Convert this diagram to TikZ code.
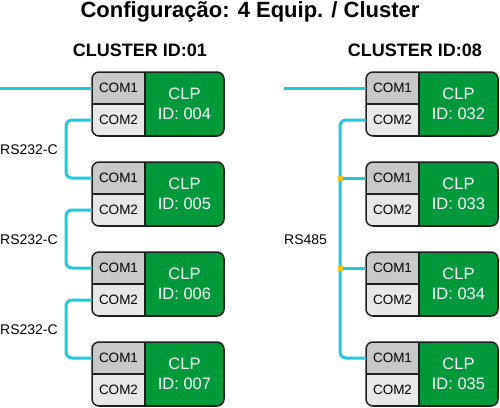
\documentclass[tikz,border=0pt]{standalone}
\usepackage{fontspec}
\setmainfont{Liberation Sans}
\usetikzlibrary{positioning}

\definecolor{clpgreen}{RGB}{0,153,57}
\definecolor{comgray}{RGB}{200,200,200}
\definecolor{comlight}{RGB}{232,232,232}
\definecolor{buscyan}{RGB}{30,200,225}
\definecolor{jointyellow}{RGB}{245,195,30}
\definecolor{edgedark}{RGB}{30,30,30}

% one CLP unit: name, left x, top y, id
\newcommand{\clpbox}[4]{%
  \begin{scope}
    \clip[rounded corners=7pt] (#2,#3) rectangle ++(132,64);
    \node[comcell, fill=comgray, anchor=north west] (c1#1) at (#2,#3) {COM1};
    \node[comcell, fill=comlight, anchor=north west] (c2#1) at (#2,#3+32) {COM2};
    \node[clpcell, anchor=north west] (#1) at (#2+53,#3) {CLP\\ID: #4};
  \end{scope}
  \draw[edgeline, rounded corners=7pt] (#2,#3) rectangle ++(132,64);
}

\begin{document}
\begin{tikzpicture}[
  x=1pt, y=-1pt,
  comcell/.style={draw=edgedark, line width=1.2pt, minimum width=53pt, minimum height=32pt, inner sep=0pt, outer sep=0pt, font=\fontsize{13.5}{16}\selectfont},
  clpcell/.style={draw=edgedark, line width=1.2pt, fill=clpgreen, text=white, align=center, minimum width=79pt, minimum height=64pt, inner sep=0pt, outer sep=0pt, font=\fontsize{16.5}{20}\selectfont},
  edgeline/.style={draw=edgedark, line width=1.5pt},
  bus/.style={draw=buscyan, line width=3pt, rounded corners=6pt},
  joint/.style={fill=jointyellow, minimum size=5pt, inner sep=0pt},
  heading/.style={font=\fontsize{18}{20}\selectfont\bfseries},
  linklabel/.style={font=\fontsize{14}{16}\selectfont, anchor=west, inner sep=0pt}
]
\useasboundingbox (0,0) rectangle (500,407);

\node[font=\fontsize{22}{24}\selectfont\bfseries] (title) at (250,12) {Configuração: 4 Equip. / Cluster};
\node[heading] (cl01) at (140,50) {CLUSTER ID:01};
\node[heading] (cl08) at (415,50) {CLUSTER ID:08};

% cluster 01
\foreach \n/\y in {004/72,005/162,006/252,007/342} {
  \clpbox{a\n}{92}{\y}{\n}
}
% cluster 08
\foreach \n/\y in {032/72,033/162,034/252,035/342} {
  \clpbox{b\n}{366}{\y}{\n}
}

% RS232-C chain
\coordinate (ina) at (0,88);
\draw[bus] (ina) -- (c1a004.west);
\foreach \a/\b in {004/005,005/006,006/007} {
  \draw[bus] (c2a\a.west) -- ++(-26,0) |- (c1a\b.west);
}
\node[linklabel] (rsa) at (0,150) {RS232-C};
\node[linklabel] (rsb) at (0,240) {RS232-C};
\node[linklabel] (rsc) at (0,330) {RS232-C};

% RS485 bus
\coordinate (inb) at (284,88);
\draw[bus] (inb) -- (c1b032.west);
\draw[bus] (c2b032.west) -- ++(-26,0) |- (c1b035.west);
\node[joint] (j033) at (340,178) {};
\node[joint] (j034) at (340,268) {};
\draw[bus] (j033) -- (c1b033.west);
\draw[bus] (j034) -- (c1b034.west);
\node[joint] at (j033) {};
\node[joint] at (j034) {};
\node[linklabel] (rs485) at (284,240) {RS485};
\end{tikzpicture}
\end{document}
